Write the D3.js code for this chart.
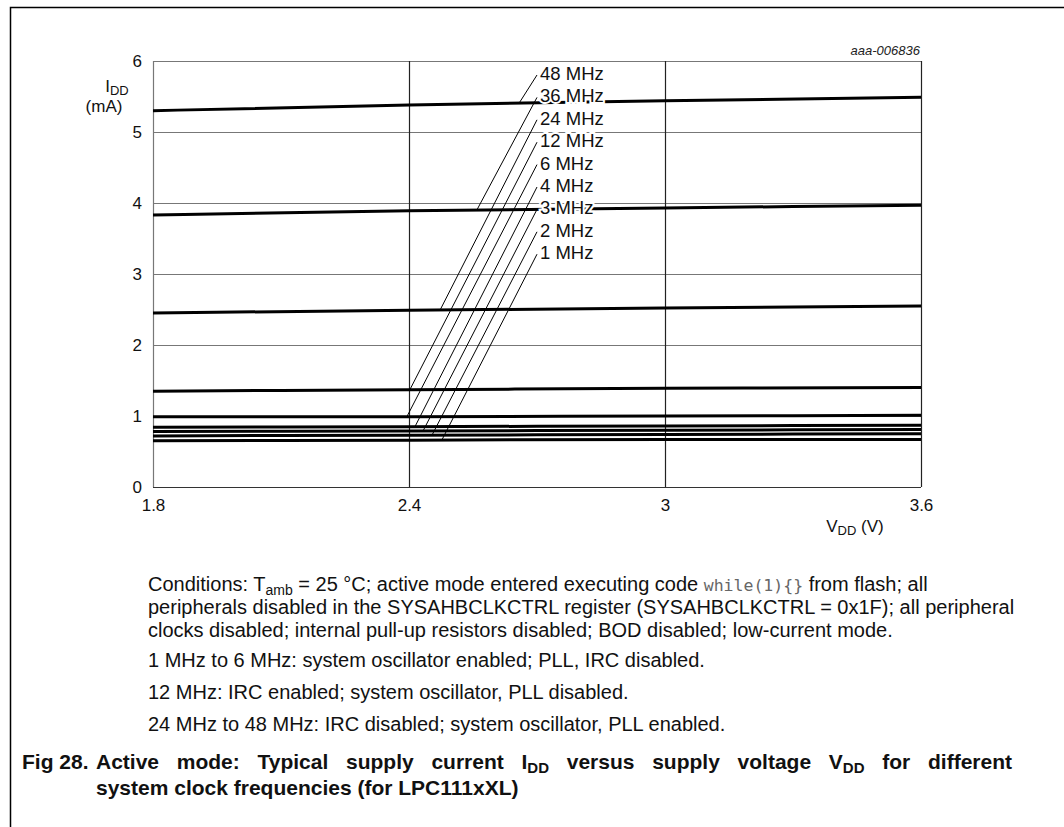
<!DOCTYPE html>
<html>
<head>
<meta charset="utf-8">
<script src="https://cdn.jsdelivr.net/npm/d3@7"></script>
<style>
  body { margin: 0; background: #fff; }
  text { font-family: "Liberation Sans", Arial, sans-serif; }
</style>
</head>
<body>
<svg id="chart"></svg>
<script>
// supply voltage (V) where the curves were read
var voltages = [1.8, 2.4, 3.0, 3.6];

// frequency labels, top to bottom
var freqLabels = ["48 MHz", "36 MHz", "24 MHz", "12 MHz", "6 MHz", "4 MHz", "3 MHz", "2 MHz", "1 MHz"];

// IDD (mA) per frequency, at each voltage
var idd48 = [5.30, 5.38, 5.44, 5.49];
var idd36 = [3.83, 3.89, 3.93, 3.97];
var idd24 = [2.45, 2.49, 2.52, 2.55];
var idd12 = [1.35, 1.37, 1.39, 1.40];
var idd6  = [0.99, 0.99, 1.00, 1.01];
var idd4  = [0.84, 0.85, 0.86, 0.87];
var idd3  = [0.78, 0.79, 0.80, 0.81];
var idd2  = [0.72, 0.73, 0.74, 0.75];
var idd1  = [0.65, 0.66, 0.67, 0.67];

// voltage where each label's leader touches its curve
var leaderV = [2.658, 2.559, 2.473, 2.402, 2.395, 2.414, 2.433, 2.454, 2.477];

var xTicks = [1.8, 2.4, 3.0, 3.6];
var yTicks = [0, 1, 2, 3, 4, 5, 6];

var series = [idd48, idd36, idd24, idd12, idd6, idd4, idd3, idd2, idd1];

var W = 1064, H = 827;
var margin = {top: 61, left: 153},
    width = 768,
    height = 426;

var svg = d3.select("#chart")
    .attr("width", W)
    .attr("height", H);

svg.append("rect").attr("width", W).attr("height", H).attr("fill", "#fff");

// page frame
svg.append("path")
    .attr("d", "M10.5," + H + "V7.5H" + W)
    .attr("fill", "none")
    .attr("stroke", "#000")
    .attr("stroke-width", 1.5);

var g = svg.append("g")
    .attr("transform", "translate(" + margin.left + "," + margin.top + ")");

var x = d3.scaleLinear().domain([1.8, 3.6]).range([0, width]);
var y = d3.scaleLinear().domain([0, 6]).range([height, 0]);

// horizontal grid
g.append("g").selectAll("line")
    .data(yTicks)
  .enter().append("line")
    .attr("x1", 0).attr("x2", width)
    .attr("y1", function(d) { return Math.round(y(d)) + 0.5; })
    .attr("y2", function(d) { return Math.round(y(d)) + 0.5; })
    .attr("stroke", function(d) { return d == 0 ? "#333" : "#777"; })
    .attr("stroke-width", 1.2);

// vertical grid
g.append("g").selectAll("line")
    .data(xTicks)
  .enter().append("line")
    .attr("x1", function(d) { return Math.round(x(d)) + 0.5; })
    .attr("x2", function(d) { return Math.round(x(d)) + 0.5; })
    .attr("y1", 0).attr("y2", height)
    .attr("stroke", function(d) { return d == 1.8 ? "#777" : "#222"; })
    .attr("stroke-width", 1.2);

// axes (labels only)
var fmt = function(d) { return String(d); };
var yAxis = g.append("g")
    .call(d3.axisLeft(y).tickValues(yTicks).tickSize(0).tickPadding(11).tickFormat(fmt));
var xAxis = g.append("g")
    .attr("transform", "translate(0," + height + ")")
    .call(d3.axisBottom(x).tickValues(xTicks).tickSize(0).tickPadding(12).tickFormat(fmt));
[yAxis, xAxis].forEach(function(a) {
  a.select(".domain").remove();
  a.selectAll("text")
      .attr("font-family", "Liberation Sans, Arial, sans-serif")
      .attr("font-size", 17)
      .attr("fill", "#111");
});

// curves
var line = d3.line()
    .x(function(d, i) { return x(voltages[i]); })
    .y(function(d) { return y(d); })
    .curve(d3.curveMonotoneX);

g.append("g").selectAll("path")
    .data(series)
  .enter().append("path")
    .attr("d", line)
    .attr("fill", "none")
    .attr("stroke", "#000")
    .attr("stroke-width", 3);

// labels with leaders
var labelX = 540 - margin.left, labelY0 = 80 - margin.top, labelStep = 22.4;

g.append("g").selectAll("line")
    .data(freqLabels)
  .enter().append("line")
    .attr("x1", labelX - 3)
    .attr("y1", function(d, i) { return labelY0 + i * labelStep - 5; })
    .attr("x2", function(d, i) { return x(leaderV[i]); })
    .attr("y2", function(d, i) {
      var f = d3.scaleLinear().domain(voltages).range(series[i]);
      return y(f(leaderV[i]));
    })
    .attr("stroke", "#000")
    .attr("stroke-width", 1);

g.append("g").selectAll("text")
    .data(freqLabels)
  .enter().append("text")
    .attr("x", labelX)
    .attr("y", function(d, i) { return labelY0 + i * labelStep; })
    .attr("font-size", 18.5)
    .attr("fill", "#111")
    .attr("stroke", "#fff")
    .attr("stroke-width", 4)
    .attr("paint-order", "stroke")
    .text(function(d) { return d; });

// axis titles
var yt = svg.append("text").attr("x", 117).attr("y", 92).attr("font-size", 17).attr("text-anchor", "middle").attr("fill", "#111");
yt.append("tspan").text("I");
yt.append("tspan").attr("font-size", 13).attr("dy", 3).text("DD");
svg.append("text").attr("x", 104).attr("y", 112).attr("font-size", 17).attr("text-anchor", "middle").attr("fill", "#111").text("(mA)");

var xt = svg.append("text").attr("x", 855).attr("y", 532).attr("font-size", 17).attr("text-anchor", "middle").attr("fill", "#111");
xt.append("tspan").text("V");
xt.append("tspan").attr("font-size", 13).attr("dy", 3).text("DD");
xt.append("tspan").attr("dy", -3).text(" (V)");

svg.append("text")
    .attr("x", 920).attr("y", 55)
    .attr("text-anchor", "end")
    .attr("font-size", 13)
    .attr("font-style", "italic")
    .attr("fill", "#222")
    .text("aaa-006836");

// notes
var noteX = 148, fs = 20;
var n1 = svg.append("text").attr("x", noteX).attr("y", 591).attr("font-size", fs).attr("fill", "#111");
n1.append("tspan").text("Conditions: T");
n1.append("tspan").attr("font-size", 14).attr("dy", 4).text("amb");
n1.append("tspan").attr("dy", -4).text(" = 25 \u00B0C; active mode entered executing code ");
n1.append("tspan").attr("font-family", "DejaVu Sans Mono, monospace").attr("font-size", 16.5).attr("fill", "#666").text("while(1){}");
n1.append("tspan").text(" from flash; all");

var noteLines = [
  [614, "peripherals disabled in the SYSAHBCLKCTRL register (SYSAHBCLKCTRL = 0x1F); all peripheral"],
  [637, "clocks disabled; internal pull-up resistors disabled; BOD disabled; low-current mode."],
  [667, "1 MHz to 6 MHz: system oscillator enabled; PLL, IRC disabled."],
  [699, "12 MHz: IRC enabled; system oscillator, PLL disabled."],
  [731, "24 MHz to 48 MHz: IRC disabled; system oscillator, PLL enabled."]
];
noteLines.forEach(function(l) {
  svg.append("text").attr("x", noteX).attr("y", l[0]).attr("font-size", fs).attr("fill", "#111").text(l[1]);
});

// caption (first line justified to the right edge)
var cs = 21, capX = 96;
svg.append("text").attr("x", 22).attr("y", 769).attr("font-size", cs).attr("font-weight", "bold").attr("fill", "#111")
    .text("Fig 28.");
var c1 = svg.append("text").attr("x", capX).attr("y", 769).attr("font-size", cs).attr("font-weight", "bold").attr("fill", "#111");
c1.append("tspan").text("Active mode: Typical supply current I");
c1.append("tspan").attr("font-size", 15).attr("dy", 4).text("DD");
c1.append("tspan").attr("dy", -4).text(" versus supply voltage V");
c1.append("tspan").attr("font-size", 15).attr("dy", 4).text("DD");
c1.append("tspan").attr("dy", -4).text(" for different");
var used = c1.node().getComputedTextLength();
c1.attr("word-spacing", Math.max(0, (1012 - capX - used) / 11));
svg.append("text").attr("x", capX).attr("y", 795).attr("font-size", cs).attr("font-weight", "bold").attr("fill", "#111")
    .text("system clock frequencies (for LPC111xXL)");
</script>
</body>
</html>
